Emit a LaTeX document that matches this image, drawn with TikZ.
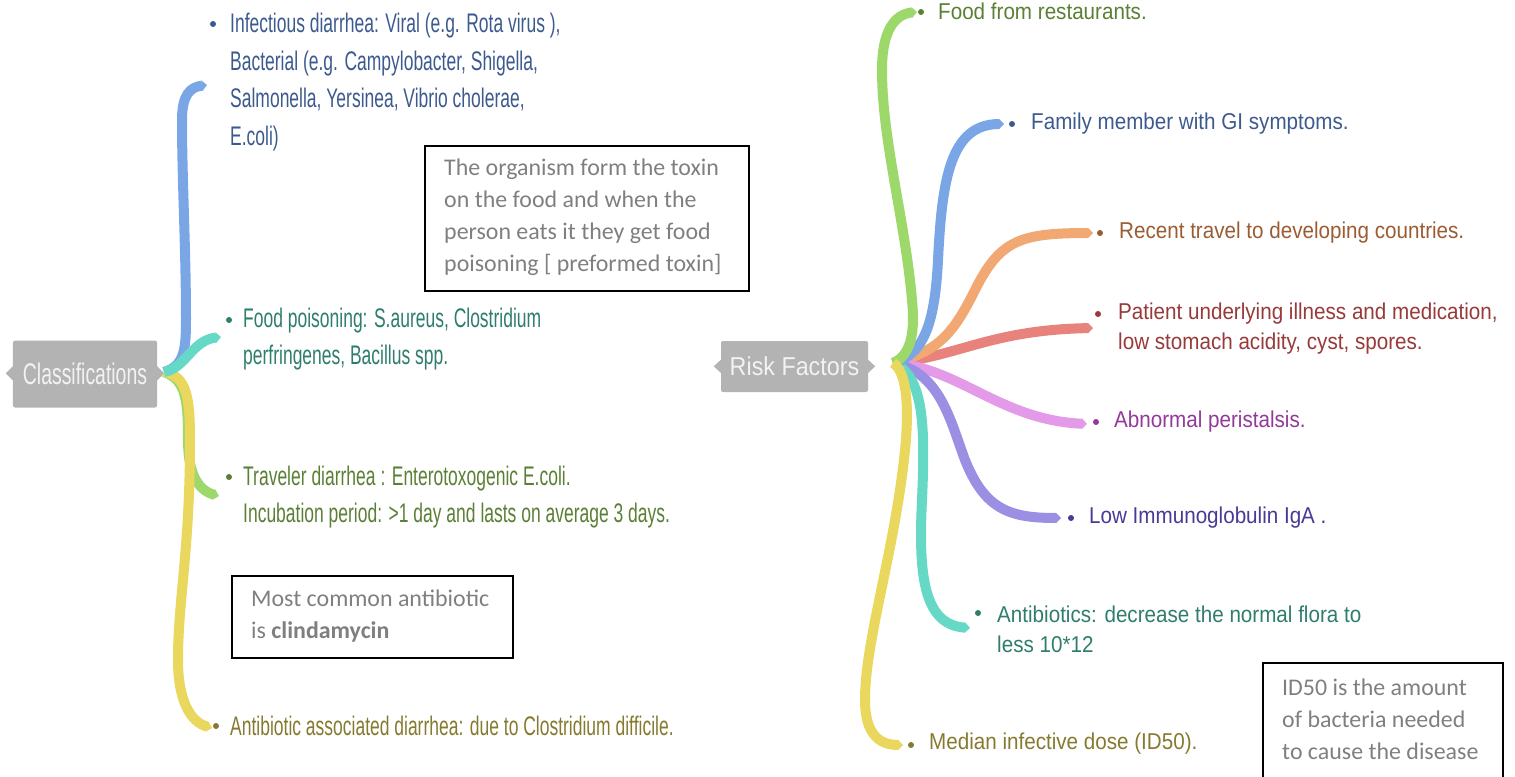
\documentclass[tikz,border=0pt]{standalone}
\usepackage{fontspec}
\usetikzlibrary{arrows.meta}
\newfontfamily\lfont[FakeStretch=0.65]{Liberation Sans}
\newfontfamily\rfont[FakeStretch=0.9]{Liberation Sans}
\newfontfamily\cfont{Carlito}
\definecolor{bBlue}{HTML}{7AA6E6}\definecolor{tBlue}{HTML}{3D5A8F}
\definecolor{bTeal}{HTML}{66D9C6}\definecolor{tTeal}{HTML}{2F7D6D}
\definecolor{bGreen}{HTML}{9DD86B}\definecolor{tGreen}{HTML}{5B7F35}
\definecolor{bYellow}{HTML}{E9D75E}\definecolor{tYellow}{HTML}{857A2F}
\definecolor{bOrange}{HTML}{F1A873}\definecolor{tOrange}{HTML}{9A5C33}
\definecolor{bSalmon}{HTML}{E8827C}\definecolor{tSalmon}{HTML}{98393A}
\definecolor{bPink}{HTML}{E39AE8}\definecolor{tPink}{HTML}{93399A}
\definecolor{bPurple}{HTML}{9B8FE3}\definecolor{tPurple}{HTML}{473B93}
\definecolor{rootgray}{HTML}{B3B3B3}
\definecolor{notegray}{HTML}{7F7F7F}
\begin{document}
\begin{tikzpicture}[x=1bp,y=-1bp,
  branch/.style={line width=10bp,-{Triangle[length=5bp,width=10bp]}},
  root/.style={fill=rootgray,rounded corners=2bp,inner sep=0pt,text=white!95!black,font=\lfont\fontsize{30}{32}\selectfont},
  ltext/.style={anchor=west,inner sep=0pt,align=left,font=\lfont\fontsize{27}{38}\selectfont},
  rtext/.style={anchor=west,inner sep=0pt,align=left,font=\rfont\fontsize{23}{30}\selectfont},
  bul/.style={circle,inner sep=0pt,minimum size=6bp},
  notebox/.style={draw=black,line width=1.5bp,anchor=north west,inner sep=0pt},
  notetext/.style={anchor=west,inner sep=0pt,align=left,text=notegray,font=\cfont\fontsize{24}{32}\selectfont},
]
\useasboundingbox (0,0) rectangle (1515,776);
% ---------- left root ----------
\node[root,minimum width=144bp,minimum height=67bp] (cl) at (85,374) {Classifications};
\fill[rootgray] (cl.north west) ++(0,26) -- ++(-7,7) -- ++(7,7) -- cycle;
\fill[rootgray] (cl.north east) ++(0,26) -- ++(7,7) -- ++(-7,7) -- cycle;
\coordinate (hubL) at (164,372);
\coordinate (eLb) at (207,85);
\coordinate (eLt) at (221,337);
\coordinate (eLg) at (219,496);
\coordinate (eLy) at (212,728);
\draw[branch,bBlue] (hubL) .. controls (184,366) and (186,350) .. (186,320) .. controls (186,250) and (182,180) .. (182,120) .. controls (182,95) and (190,87) .. (eLb);
\draw[branch,bGreen] (hubL) .. controls (186,380) and (188,400) .. (188,440) .. controls (188,470) and (196,490) .. (eLg);
\draw[branch,bYellow] (hubL) .. controls (186,376) and (190,395) .. (190,440) .. controls (190,550) and (178,600) .. (178,660) .. controls (178,700) and (190,722) .. (eLy);
\draw[branch,bTeal] (hubL) .. controls (186,368) and (192,340) .. (eLt);
% left texts
\node[bul,fill=tBlue] (dLb) at (213,24) {};
\node[ltext,text=tBlue] (tLb) at (230,82) {Infectious diarrhea: Viral (e.g. Rota virus ),\\Bacterial (e.g. Campylobacter, Shigella,\\Salmonella, Yersinea, Vibrio cholerae,\\E.coli)};
\node[bul,fill=tTeal] (dLt) at (229,320) {};
\node[ltext,text=tTeal] (tLt) at (243,339) {Food poisoning: S.aureus, Clostridium\\perfringenes, Bacillus spp.};
\node[bul,fill=tGreen] (dLg) at (229,477) {};
\node[ltext,text=tGreen] (tLg) at (243,497) {Traveler diarrhea : Enterotoxogenic E.coli.\\Incubation period: >1 day and lasts on average 3 days.};
\node[bul,fill=tYellow] (dLy) at (216,726) {};
\node[ltext,text=tYellow] (tLy) at (230,726) {Antibiotic associated diarrhea: due to Clostridium difficile.};
% ---------- right root ----------
\node[root,minimum width=147bp,minimum height=51bp,font=\rfont\fontsize{26}{28}\selectfont] (rf) at (794.5,366.5) {Risk Factors};
\fill[rootgray] (rf.north west) ++(0,19) -- ++(-7,6.5) -- ++(7,6.5) -- cycle;
\fill[rootgray] (rf.north east) ++(0,19) -- ++(7,6.5) -- ++(-7,6.5) -- cycle;
\coordinate (hubR) at (893,363);
\coordinate (eRg) at (917,12);
\coordinate (eRb) at (1004,124);
\coordinate (eRo) at (1093,233);
\coordinate (eRs) at (1093,328);
\coordinate (eRp) at (1087,424);
\coordinate (eRu) at (1061,518);
\coordinate (eRt) at (970,628);
\coordinate (eRy) at (903,745);
\draw[branch,bSalmon] (hubR) .. controls (960,356) and (990,330) .. (eRs);
\draw[branch,bOrange] (hubR) .. controls (940,352) and (955,330) .. (975,290) .. controls (1000,240) and (1020,233) .. (eRo);
\draw[branch,bPink] (hubR) .. controls (960,368) and (1000,420) .. (eRp);
\draw[branch,bPurple] (hubR) .. controls (940,372) and (950,420) .. (965,460) .. controls (985,510) and (1010,518) .. (eRu);
\draw[branch,bTeal] (hubR) .. controls (925,376) and (925,430) .. (922,500) .. controls (918,580) and (925,625) .. (eRt);
\draw[branch,bBlue] (hubR) .. controls (925,355) and (935,320) .. (938,260) .. controls (942,180) and (950,124) .. (eRb);
\draw[branch,bGreen] (hubR) .. controls (912,355) and (915,330) .. (912,300) .. controls (905,220) and (882,140) .. (882,70) .. controls (882,30) and (895,14) .. (eRg);
\draw[branch,bYellow] (hubR) .. controls (905,370) and (910,400) .. (905,450) .. controls (895,550) and (865,640) .. (865,700) .. controls (865,735) and (880,745) .. (eRy);
% right texts
\node[bul,fill=tGreen] (dRg) at (921,12) {};
\node[rtext,text=tGreen] (tRg) at (938,11) {Food from restaurants.};
\node[bul,fill=tBlue] (dRb) at (1012,124) {};
\node[rtext,text=tBlue] (tRb) at (1031,124) {Family member with GI symptoms.};
\node[bul,fill=tOrange] (dRo) at (1100,233) {};
\node[rtext,text=tOrange] (tRo) at (1119,233) {Recent travel to developing countries.};
\node[bul,fill=tSalmon] (dRs) at (1098,314) {};
\node[rtext,text=tSalmon] (tRs) at (1118,329) {Patient underlying illness and medication,\\low stomach acidity, cyst, spores.};
\node[bul,fill=tPink] (dRp) at (1096,422) {};
\node[rtext,text=tPink] (tRp) at (1114,422) {Abnormal peristalsis.};
\node[bul,fill=tPurple] (dRu) at (1071,518) {};
\node[rtext,text=tPurple] (tRu) at (1089,518) {Low Immunoglobulin IgA .};
\node[bul,fill=tTeal] (dRt) at (978,613) {};
\node[rtext,text=tTeal] (tRt) at (997,629) {Antibiotics: decrease the normal flora to\\less 10*12};
\node[bul,fill=tYellow] (dRy) at (911,745) {};
\node[rtext,text=tYellow] (tRy) at (929,744) {Median infective dose (ID50).};
% ---------- notes ----------
\node[notebox,minimum width=324bp,minimum height=145bp] (n1) at (424,145) {};
\node[notetext] (n1t) at (444,217) {The organism form the toxin\\on the food and when the\\person eats it they get food\\poisoning [ preformed toxin]};
\node[notebox,minimum width=281bp,minimum height=82bp] (n2) at (231,575) {};
\node[notetext] (n2t) at (251,616) {Most common antibiotic\\is \textbf{clindamycin}};
\node[notebox,minimum width=240bp,minimum height=125bp] (n3) at (1262,662) {};
\node[notetext] (n3t) at (1282,719) {ID50 is the amount\\of bacteria needed\\to cause the disease};
\end{tikzpicture}
\end{document}
